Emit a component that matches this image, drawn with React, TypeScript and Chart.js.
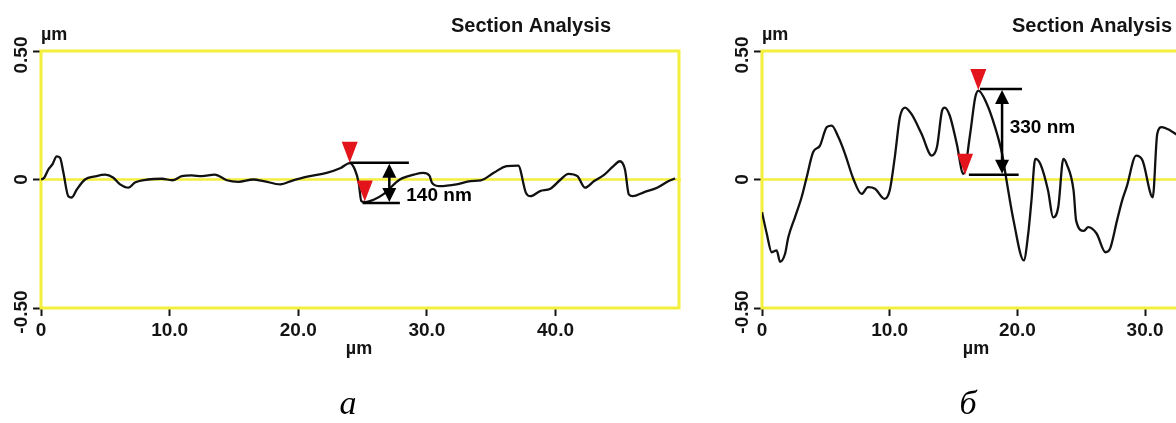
import React, { useEffect, useRef } from 'react';
import { Chart, registerables } from 'chart.js';

Chart.register(...registerables);

// ---------- data ----------
const X_TICKS = [0, 10, 20, 30, 40];
const X_TICK_LABELS = ['0', '10.0', '20.0', '30.0', '40.0'];
const Y_TICKS = [-0.5, 0, 0.5];
const Y_TICK_LABELS = ['-0.50', '0', '0.50'];

const TITLE = 'Section Analysis';
const UNIT = 'µm';
const CAPTION_A = 'а';
const CAPTION_B = 'б';

// panel a: profile (µm, µm)
const X_A = [0, 0.25, 0.57, 0.9, 1.22, 1.48, 1.74, 2.12, 2.39, 2.78, 3.42, 4.2, 4.98, 5.6, 6.15, 6.8, 7.3, 8.3, 9.4, 10.2, 10.95, 11.7, 12.5, 13.5, 14.45, 15.35, 16.5, 17.3, 18.6, 19.6, 20.9, 22.2, 23.3, 24.0, 24.4, 24.7, 24.9, 25.2, 25.9, 26.6, 27.9, 29.0, 29.7, 30.2, 30.4, 31.0, 32.3, 33.4, 34.2, 35.2, 36.2, 37.1, 37.7, 38.05, 38.8, 39.6, 40.4, 41.0, 41.7, 42.3, 43.0, 43.8, 44.5, 45.0, 45.4, 45.7, 46.0, 46.9, 47.9, 48.8, 49.3];
const Y_A = [0.0, 0.007, 0.039, 0.06, 0.09, 0.085, 0.027, -0.065, -0.07, -0.039, 0.0, 0.012, 0.019, 0.008, -0.019, -0.032, -0.012, 0.0, 0.003, -0.003, 0.013, 0.016, 0.013, 0.019, -0.003, -0.009, 0.0, -0.006, -0.019, -0.003, 0.013, 0.026, 0.045, 0.064, 0.039, -0.013, -0.084, -0.088, -0.078, -0.058, 0.0, 0.019, 0.026, 0.015, -0.013, -0.026, -0.019, -0.006, -0.003, 0.026, 0.052, 0.054, -0.052, -0.065, -0.045, -0.036, 0.0, 0.022, 0.013, -0.032, -0.006, 0.019, 0.052, 0.071, 0.039, -0.058, -0.065, -0.049, -0.032, -0.006, 0.004];

// panel б: profile (µm, µm)
const X_B = [0, 0.37, 0.76, 1.15, 1.41, 1.8, 2.06, 2.58, 3.1, 3.5, 4.0, 4.54, 5.07, 5.46, 5.98, 6.5, 7.15, 7.8, 8.3, 8.85, 9.6, 10.0, 10.4, 10.8, 11.2, 11.7, 12.5, 13.3, 13.7, 14.1, 14.3, 14.7, 15.25, 15.77, 16.3, 16.7, 16.95, 17.6, 18.25, 18.8, 19.15, 19.7, 20.5, 20.85, 21.1, 21.4, 21.8, 22.4, 22.8, 23.2, 23.6, 23.86, 24.4, 24.6, 25.2, 25.55, 26.2, 26.9, 27.25, 27.8, 28.2, 28.55, 29.3, 29.8, 30.6, 30.95, 31.3, 32.0, 32.6];
const Y_B = [-0.127, -0.21, -0.283, -0.276, -0.32, -0.29, -0.225, -0.147, -0.069, 0.009, 0.106, 0.132, 0.204, 0.21, 0.165, 0.1, 0.003, -0.056, -0.03, -0.036, -0.075, -0.043, 0.087, 0.243, 0.28, 0.255, 0.177, 0.093, 0.126, 0.268, 0.28, 0.249, 0.139, 0.022, 0.177, 0.32, 0.346, 0.295, 0.204, 0.1, -0.004, -0.16, -0.315, -0.21, -0.082, 0.08, 0.06, -0.043, -0.147, -0.107, 0.08, 0.06, -0.043, -0.16, -0.2, -0.185, -0.21, -0.283, -0.27, -0.16, -0.082, -0.03, 0.093, 0.074, -0.069, 0.177, 0.204, 0.19, 0.17];

// cursor markers (data units)
const MARKERS_A = [{ x: 24.0, y: 0.065 }, { x: 25.17, y: -0.086 }];
const MARKERS_B = [{ x: 16.94, y: 0.348 }, { x: 15.9, y: 0.018 }];

// height measurement annotations (data units)
const MEASURE_A = { top: 0.065, bottom: -0.091, topFrom: 24.0, topTo: 28.6, bottomFrom: 25.0, bottomTo: 27.9, arrowX: 27.08, label: '140 nm', labelX: 28.4, labelY: -0.084 };
const MEASURE_B = { top: 0.352, bottom: 0.018, topFrom: 17.07, topTo: 20.36, bottomFrom: 16.2, bottomTo: 20.1, arrowX: 18.8, label: '330 nm', labelX: 19.4, labelY: 0.181 };

// ---------- styling ----------
const YELLOW = 'rgb(244,238,60)';
const INK = '#141414';
const RED = '#e3141b';
const SANS = '"Liberation Sans", Arial, sans-serif';

type Panel = {
  xs: number[];
  ys: number[];
  xMax: number;
  axisLeft: number;
  padRight: number;
  top: number;
  drawRight: boolean;
  titleX: number;
  unitX: number;
  captionX: number;
  caption: string;
  markers: { x: number; y: number }[];
  measure: typeof MEASURE_A;
};

function overlayPlugin(p: Panel) {
  return {
    id: 'overlay',
    beforeDatasetsDraw(chart: any) {
      const { ctx, chartArea } = chart;
      const { left, right, top, bottom } = chartArea;
      const ys = chart.scales.y;
      ctx.save();
      ctx.strokeStyle = YELLOW;
      ctx.lineWidth = 2.5;
      const y0 = ys.getPixelForValue(0);
      ctx.beginPath();
      ctx.moveTo(left, y0);
      ctx.lineTo(right + 2, y0);
      ctx.stroke();
      ctx.lineWidth = 3;
      ctx.beginPath();
      if (p.drawRight) {
        ctx.rect(left, top, right - left, bottom - top);
      } else {
        ctx.moveTo(right + 2, top);
        ctx.lineTo(left, top);
        ctx.lineTo(left, bottom);
        ctx.lineTo(right + 2, bottom);
      }
      ctx.stroke();
      ctx.restore();
    },
    afterDatasetsDraw(chart: any) {
      const { ctx } = chart;
      const xs = chart.scales.x;
      const ys = chart.scales.y;
      ctx.save();
      ctx.fillStyle = RED;
      for (const m of p.markers) {
        const px = xs.getPixelForValue(m.x);
        const py = ys.getPixelForValue(m.y);
        ctx.beginPath();
        ctx.moveTo(px - 8, py - 21);
        ctx.lineTo(px + 8, py - 21);
        ctx.lineTo(px, py);
        ctx.closePath();
        ctx.fill();
      }
      const M = p.measure;
      const yt = ys.getPixelForValue(M.top);
      const yb = ys.getPixelForValue(M.bottom);
      ctx.strokeStyle = '#000';
      ctx.fillStyle = '#000';
      ctx.lineWidth = 2.5;
      ctx.beginPath();
      ctx.moveTo(xs.getPixelForValue(M.topFrom), yt);
      ctx.lineTo(xs.getPixelForValue(M.topTo), yt);
      ctx.moveTo(xs.getPixelForValue(M.bottomFrom), yb);
      ctx.lineTo(xs.getPixelForValue(M.bottomTo), yb);
      ctx.stroke();
      const ax = xs.getPixelForValue(M.arrowX);
      const hl = 15;
      const hw = 7;
      ctx.beginPath();
      ctx.moveTo(ax, yt + hl - 2);
      ctx.lineTo(ax, yb - hl + 2);
      ctx.stroke();
      ctx.beginPath();
      ctx.moveTo(ax, yt + 1);
      ctx.lineTo(ax - hw, yt + hl);
      ctx.lineTo(ax + hw, yt + hl);
      ctx.closePath();
      ctx.fill();
      ctx.beginPath();
      ctx.moveTo(ax, yb - 1);
      ctx.lineTo(ax - hw, yb - hl);
      ctx.lineTo(ax + hw, yb - hl);
      ctx.closePath();
      ctx.fill();
      ctx.font = `bold 19px ${SANS}`;
      ctx.textAlign = 'left';
      ctx.textBaseline = 'alphabetic';
      ctx.fillText(M.label, xs.getPixelForValue(M.labelX), ys.getPixelForValue(M.labelY));
      ctx.restore();
    },
    afterDraw(chart: any) {
      const { ctx, chartArea } = chart;
      const ys = chart.scales.y;
      ctx.save();
      ctx.fillStyle = INK;
      ctx.font = `bold 19px ${SANS}`;
      ctx.textAlign = 'center';
      ctx.textBaseline = 'alphabetic';
      Y_TICKS.forEach((v, i) => {
        const py = ys.getPixelForValue(v) + (v === 0 ? 0 : 4);
        ctx.save();
        ctx.translate(chartArea.left - 14, py);
        ctx.rotate(-Math.PI / 2);
        ctx.fillText(Y_TICK_LABELS[i], 0, 0);
        ctx.restore();
      });
      ctx.font = `bold 20px ${SANS}`;
      ctx.textAlign = 'center';
      ctx.fillText(TITLE, p.titleX, 32);
      ctx.font = `bold 18px ${SANS}`;
      ctx.textAlign = 'left';
      ctx.fillText(UNIT, chartArea.left, 40);
      ctx.textAlign = 'center';
      ctx.fillText(UNIT, p.unitX, 354);
      ctx.fillStyle = '#000';
      ctx.font = `italic 34px "Liberation Serif", "Times New Roman", serif`;
      ctx.fillText(p.caption, p.captionX, 414);
      ctx.restore();
    },
  };
}

function makeChart(canvas: HTMLCanvasElement, p: Panel) {
  const height = canvas.height;
  return new Chart(canvas, {
    type: 'line',
    data: {
      datasets: [
        {
          data: p.xs.map((x, i) => ({ x, y: p.ys[i] })),
          borderColor: '#111111',
          borderWidth: 2.3,
          pointRadius: 0,
          cubicInterpolationMode: 'monotone',
          fill: false,
        },
      ],
    },
    options: {
      responsive: false,
      maintainAspectRatio: false,
      animation: false,
      events: [],
      layout: { padding: { top: p.top, right: p.padRight, left: 0, bottom: 0 } },
      plugins: { legend: { display: false }, tooltip: { enabled: false }, title: { display: false } },
      scales: {
        x: {
          type: 'linear',
          min: 0,
          max: p.xMax,
          afterBuildTicks: (axis: any) => {
            axis.ticks = X_TICKS.filter((v) => v <= p.xMax).map((v) => ({ value: v }));
          },
          afterFit: (axis: any) => {
            axis.height = height - 308;
          },
          grid: { drawOnChartArea: false, drawTicks: true, tickLength: 8, tickColor: INK, tickWidth: 2 },
          border: { display: false },
          ticks: {
            color: INK,
            font: { family: SANS, weight: 'bold', size: 19 },
            padding: 3,
            maxRotation: 0,
            minRotation: 0,
            autoSkip: false,
            callback: (_v: any, i: number) => X_TICK_LABELS[i],
          },
        },
        y: {
          type: 'linear',
          min: -0.5,
          max: 0.5,
          afterBuildTicks: (axis: any) => {
            axis.ticks = Y_TICKS.map((v) => ({ value: v }));
          },
          afterFit: (axis: any) => {
            axis.width = p.axisLeft;
          },
          grid: { drawOnChartArea: false, drawTicks: true, tickLength: 8, tickColor: INK, tickWidth: 2 },
          border: { display: false },
          ticks: { display: false },
        },
      },
    } as any,
    plugins: [overlayPlugin(p)],
  });
}

const PANEL_A: Panel = {
  xs: X_A,
  ys: Y_A,
  xMax: 49.6,
  axisLeft: 41,
  padRight: 21,
  top: 51,
  drawRight: true,
  titleX: 531,
  unitX: 359,
  captionX: 348,
  caption: CAPTION_A,
  markers: MARKERS_A,
  measure: MEASURE_A,
};

const PANEL_B: Panel = {
  xs: X_B,
  ys: Y_B,
  xMax: 32.42,
  axisLeft: 62,
  padRight: 0,
  top: 51,
  drawRight: false,
  titleX: 392,
  unitX: 276,
  captionX: 268,
  caption: CAPTION_B,
  markers: MARKERS_B,
  measure: MEASURE_B,
};

export default function App() {
  const refA = useRef<HTMLCanvasElement>(null);
  const refB = useRef<HTMLCanvasElement>(null);
  useEffect(() => {
    const a = makeChart(refA.current!, PANEL_A);
    const b = makeChart(refB.current!, PANEL_B);
    return () => {
      a.destroy();
      b.destroy();
    };
  }, []);
  return (
    <div
      style={{
        position: 'absolute',
        left: 0,
        top: 0,
        width: 1176,
        height: 423,
        overflow: 'hidden',
        background: '#fff',
      }}
    >
      <canvas ref={refA} width={700} height={423} style={{ position: 'absolute', left: 0, top: 0 }} />
      <canvas ref={refB} width={476} height={423} style={{ position: 'absolute', left: 700, top: 0 }} />
    </div>
  );
}
